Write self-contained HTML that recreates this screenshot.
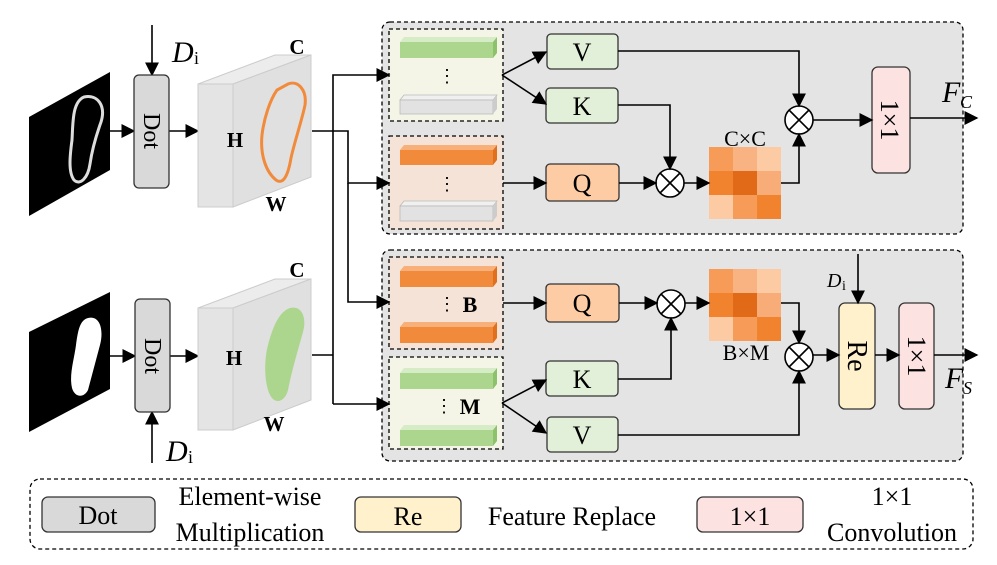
<!DOCTYPE html>
<html><head><meta charset="utf-8"><style>
html,body{margin:0;padding:0;background:#fff}
svg{display:block}
text{font-family:"Liberation Serif",serif}
</style></head><body>
<svg width="997" height="565" viewBox="0 0 997 565" xmlns="http://www.w3.org/2000/svg">
<defs>
<marker id="b" viewBox="0 0 10 10" refX="9" refY="5" markerWidth="14" markerHeight="14" markerUnits="userSpaceOnUse" orient="auto"><path d="M0,0 L10,5 L0,10 Z" fill="#000"/></marker>
</defs>
<g stroke="#000" stroke-width="1.3" stroke-dasharray="4,3">
<rect x="382" y="22" width="581" height="212" rx="8" fill="#e4e4e4"/>
<rect x="382" y="250" width="581" height="211" rx="8" fill="#e4e4e4"/>
<rect x="389" y="29" width="114" height="92" fill="#f4f5e6"/>
<rect x="389" y="136" width="114" height="93" fill="#f4e3d6"/>
<rect x="389" y="257" width="114" height="92" fill="#f4e3d6"/>
<rect x="389" y="357" width="114" height="92" fill="#f4f5e6"/>
<rect x="30" y="479" width="943" height="70" rx="10" fill="#fff"/>
</g>
<g>
<polygon points="400,42 404,37 497,37 493,42" fill="#d6ecc6"/><rect x="400" y="42" width="93" height="16" fill="#acd68d"/><polygon points="493,42 497,37 497,53 493,58" fill="#8cc26c"/>
<polygon points="400,100 404,95 497,95 493,100" fill="#f0f0f0" stroke="#bbb" stroke-width="0.8"/><rect x="400" y="100" width="93" height="14" fill="#e2e2e2" stroke="#bbb" stroke-width="0.8"/><polygon points="493,100 497,95 497,109 493,114" fill="#ccc"/>
<polygon points="400,150 404,145 497,145 493,150" fill="#f8b07a"/><rect x="400" y="150" width="93" height="15" fill="#f28a3c"/><polygon points="493,150 497,145 497,160 493,165" fill="#e0701e"/>
<polygon points="400,206 404,201 497,201 493,206" fill="#f0f0f0" stroke="#bbb" stroke-width="0.8"/><rect x="400" y="206" width="93" height="15" fill="#e2e2e2" stroke="#bbb" stroke-width="0.8"/><polygon points="493,206 497,201 497,216 493,221" fill="#ccc"/>
<polygon points="400,271 404,266 497,266 493,271" fill="#f8b07a"/><rect x="400" y="271" width="93" height="16" fill="#f28a3c"/><polygon points="493,271 497,266 497,282 493,287" fill="#e0701e"/>
<polygon points="400,327 404,322 497,322 493,327" fill="#f8b07a"/><rect x="400" y="327" width="93" height="16" fill="#f28a3c"/><polygon points="493,327 497,322 497,338 493,343" fill="#e0701e"/>
<polygon points="400,373 404,368 497,368 493,373" fill="#d6ecc6"/><rect x="400" y="373" width="93" height="16" fill="#acd68d"/><polygon points="493,373 497,368 497,384 493,389" fill="#8cc26c"/>
<polygon points="400,430 404,425 497,425 493,430" fill="#d6ecc6"/><rect x="400" y="430" width="93" height="16" fill="#acd68d"/><polygon points="493,430 497,425 497,441 493,446" fill="#8cc26c"/>
</g>
<g font-size="18" text-anchor="middle">
<text x="447" y="82">⋮</text><text x="447" y="190">⋮</text>
<text x="447" y="310">⋮</text><text x="444" y="412">⋮</text>
</g>
<text x="470" y="312" font-size="22" font-weight="bold" text-anchor="middle">B</text>
<text x="470" y="414" font-size="22" font-weight="bold" text-anchor="middle">M</text>
<g stroke="#333" stroke-width="1.3">
<rect x="547" y="34" width="71" height="35" rx="4" fill="#e2efd9"/>
<rect x="546" y="88" width="72" height="35" rx="4" fill="#e2efd9"/>
<rect x="546" y="164" width="73" height="37" rx="4" fill="#fdcca4"/>
<rect x="546" y="284" width="73" height="38" rx="4" fill="#fdcca4"/>
<rect x="546" y="361" width="72" height="35" rx="4" fill="#e2efd9"/>
<rect x="547" y="417" width="71" height="35" rx="4" fill="#e2efd9"/>
<rect x="872" y="67" width="38" height="106" rx="6" fill="#fde2e2"/>
<rect x="839" y="303" width="36" height="106" rx="6" fill="#fff1cc"/>
<rect x="899" y="303" width="35" height="106" rx="6" fill="#fde2e2"/>
</g>
<g font-size="26" text-anchor="middle">
<text x="582" y="61">V</text><text x="582" y="115">K</text><text x="582" y="192">Q</text>
<text x="582" y="312">Q</text><text x="582" y="388">K</text><text x="582" y="444">V</text>
</g>
<text transform="translate(881,120) rotate(90)" font-size="26" text-anchor="middle">1×1</text>
<text transform="translate(848,356) rotate(90)" font-size="28" text-anchor="middle">Re</text>
<text transform="translate(908,356) rotate(90)" font-size="26" text-anchor="middle">1×1</text>
<g>
<rect x="709" y="147" width="24" height="24" fill="#f69c58"/><rect x="733" y="147" width="24" height="24" fill="#f9b382"/><rect x="757" y="147" width="24" height="24" fill="#fdcba3"/>
<rect x="709" y="171" width="24" height="24" fill="#f1832f"/><rect x="733" y="171" width="24" height="24" fill="#e06a18"/><rect x="757" y="171" width="24" height="24" fill="#f8ad78"/>
<rect x="709" y="195" width="24" height="24" fill="#fdcba3"/><rect x="733" y="195" width="24" height="24" fill="#f69c58"/><rect x="757" y="195" width="24" height="24" fill="#f1832f"/>
<rect x="709" y="269" width="24" height="24" fill="#f69c58"/><rect x="733" y="269" width="24" height="24" fill="#f9b382"/><rect x="757" y="269" width="24" height="24" fill="#fdcba3"/>
<rect x="709" y="293" width="24" height="24" fill="#f1832f"/><rect x="733" y="293" width="24" height="24" fill="#e06a18"/><rect x="757" y="293" width="24" height="24" fill="#f8ad78"/>
<rect x="709" y="317" width="24" height="24" fill="#fdcba3"/><rect x="733" y="317" width="24" height="24" fill="#f69c58"/><rect x="757" y="317" width="24" height="24" fill="#f1832f"/>
</g>
<text x="745" y="146" font-size="22" text-anchor="middle">C×C</text>
<text x="746" y="360" font-size="22" text-anchor="middle">B×M</text>
<g fill="#fff" stroke="#000" stroke-width="1.6">
<g transform="translate(670,183)"><circle r="14"/><path d="M-10,-10L10,10M-10,10L10,-10"/></g>
<g transform="translate(799,120)"><circle r="14"/><path d="M-10,-10L10,10M-10,10L10,-10"/></g>
<g transform="translate(671,304)"><circle r="14"/><path d="M-10,-10L10,10M-10,10L10,-10"/></g>
<g transform="translate(799,357)"><circle r="14"/><path d="M-10,-10L10,10M-10,10L10,-10"/></g>
</g>
<g stroke="#000" stroke-width="1.6" fill="none" marker-end="url(#b)">
<path d="M502,75 L546,52"/><path d="M502,75 L546,104"/>
<path d="M503,183 L546,183"/><path d="M619,183 L656,183"/><path d="M684,183 L709,183"/>
<path d="M618,105 L670,105 L670,169"/>
<path d="M618,51 L799,51 L799,106"/>
<path d="M781,183 L799,183 L799,134"/>
<path d="M813,120 L872,120"/><path d="M910,118 L977,118"/>
<path d="M503,303 L546,303"/><path d="M619,303 L657,303"/><path d="M685,303 L709,303"/>
<path d="M502,403 L546,380"/><path d="M502,403 L546,433"/>
<path d="M618,379 L671,379 L671,318"/>
<path d="M618,435 L799,435 L799,371"/>
<path d="M781,303 L799,303 L799,343"/>
<path d="M813,355 L839,355"/><path d="M875,355 L899,355"/><path d="M934,355 L977,355"/>
<path d="M858,254 L858,303"/>
<path d="M333,404 L333,75 L389,75"/><path d="M333,404 L389,404"/>
<path d="M312,131 L348,131 L348,183 L389,183"/><path d="M348,183 L348,302 L389,302"/>
<path d="M110,131 L134,131"/><path d="M169,131 L198,131"/>
<path d="M110,356 L135,356"/><path d="M170,356 L198,356"/>
<path d="M152,25 L152,75"/><path d="M152,463 L152,412"/>
</g>
<path d="M312,355 L333,355" stroke="#000" stroke-width="1.6"/>
<polygon points="29,117 110,72 110,170 29,216" fill="#000"/>
<path d="M84,97 C98,94 106,106 101,122 C96,136 92,150 90,164 C88,178 80,186 74,180 C68,172 70,155 72,140 C73,124 72,102 84,97 Z" fill="none" stroke="#ddd" stroke-width="3"/>
<polygon points="29,332 110,292 110,389 29,432" fill="#000"/>
<path d="M88,318 C100,315 104,330 100,345 C96,360 92,375 88,390 C84,398 75,398 72,388 C69,375 74,360 76,345 C78,330 80,320 88,318 Z" fill="#fff"/>
<g stroke="#333" stroke-width="1.3">
<rect x="134" y="75" width="35" height="113" rx="5" fill="#d9d9d9"/>
<rect x="135" y="299" width="35" height="113" rx="5" fill="#d9d9d9"/>
</g>
<text transform="translate(144,131) rotate(90)" font-size="24" text-anchor="middle">Dot</text>
<text transform="translate(145,356) rotate(90)" font-size="24" text-anchor="middle">Dot</text>
<text x="172" y="62" font-size="30" font-style="italic">D</text><text x="194" y="64" font-size="18">i</text>
<text x="166" y="461" font-size="30" font-style="italic">D</text><text x="188" y="463" font-size="18">i</text>
<text x="827" y="287" font-size="20" font-style="italic">D</text><text x="842" y="290" font-size="14">i</text>
<text x="942" y="102" font-size="30" font-style="italic">F</text><text x="960" y="108" font-size="18" font-style="italic">C</text>
<text x="945" y="388" font-size="30" font-style="italic">F</text><text x="963" y="394" font-size="18" font-style="italic">S</text>
<g stroke="#ccc" stroke-width="1">
<polygon points="198,84 275,55 311,55 233,84" fill="#ececec"/>
<rect x="198" y="84" width="35" height="123" fill="#e4e4e4"/>
<polygon points="233,84 311,55 311,177 233,207" fill="#e0e0e0"/>
<polygon points="198,308 275,279 311,279 233,308" fill="#ececec"/>
<rect x="198" y="308" width="35" height="122" fill="#e4e4e4"/>
<polygon points="233,308 311,279 311,400 233,430" fill="#e0e0e0"/>
</g>
<path d="M288,84 C298,80 307,90 305,105 C302,120 295,140 291,158 C288,176 283,185 276,180 C266,172 260,155 262,135 C264,118 270,100 277,90 Z" fill="none" stroke="#f28a3c" stroke-width="3"/>
<path d="M290,308 C302,305 307,318 303,332 C298,350 292,370 288,390 C285,402 275,405 270,395 C264,383 264,360 268,345 C272,330 278,312 290,308 Z" fill="#acd68d"/>
<g font-size="21" font-weight="bold" text-anchor="middle">
<text x="297" y="54">C</text><text x="235" y="147">H</text><text x="276" y="211">W</text>
<text x="297" y="277">C</text><text x="234" y="365">H</text><text x="274" y="431">W</text>
</g>
<g stroke="#333" stroke-width="1.3">
<rect x="42" y="497" width="113" height="35" rx="6" fill="#d9d9d9"/>
<rect x="355" y="497" width="106" height="35" rx="6" fill="#fff1cc"/>
<rect x="697" y="497" width="106" height="35" rx="6" fill="#fde2e2"/>
</g>
<g font-size="26" text-anchor="middle">
<text x="98" y="524">Dot</text>
<text x="250" y="505">Element-wise</text><text x="250" y="541">Multiplication</text>
<text x="408" y="525">Re</text>
<text x="572" y="525">Feature Replace</text>
<text x="750" y="525">1×1</text>
<text x="892" y="505">1×1</text><text x="892" y="541">Convolution</text>
</g>
</svg>
</body></html>
